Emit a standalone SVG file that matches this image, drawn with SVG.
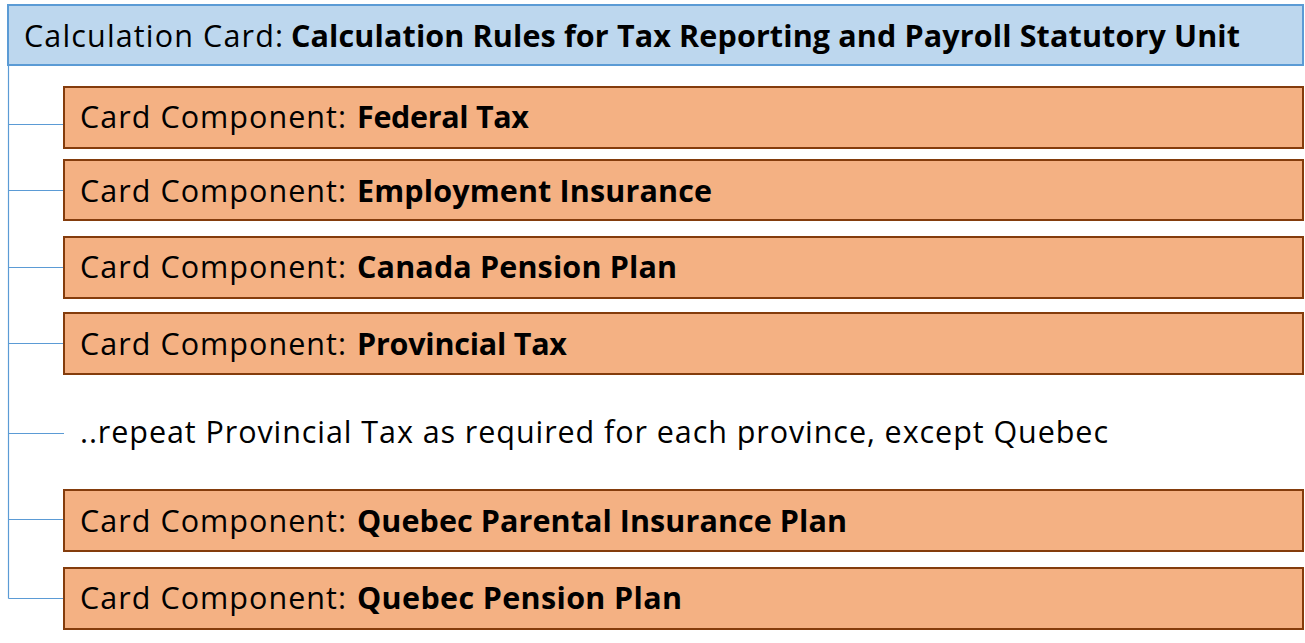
<svg xmlns="http://www.w3.org/2000/svg" width="1305" height="643" viewBox="0 0 1305 643">
<style>
  .hdr { fill: #BDD7EE; stroke: #5B9BD5; stroke-width: 2; }
  .comp { fill: #F4B183; stroke: #843C0C; stroke-width: 2; }
  .conn { stroke: #5B9BD5; stroke-width: 1.2; fill: none; }
  text { font-family: "Open Sans", "Noto Sans", sans-serif; font-size: 30.5px; fill: #000; }
  .b { font-weight: bold; }
</style>
<rect width="1305" height="643" fill="#FFFFFF"/>
<g id="connectors">
  <path class="conn" d="M8.5 66 V598.5"/>
  <path class="conn" d="M8.5 124.5 H64"/>
  <path class="conn" d="M8.5 190.5 H64"/>
  <path class="conn" d="M8.5 267.5 H64"/>
  <path class="conn" d="M8.5 343.5 H64"/>
  <path class="conn" d="M8.5 433.5 H64"/>
  <path class="conn" d="M8.5 519.5 H64"/>
  <path class="conn" d="M8.5 598.5 H64"/>
</g>
<g id="calc-card">
  <rect class="hdr" x="8" y="5" width="1295" height="60"/>
  <text x="24" y="47" textLength="259">Calculation Card:</text>
  <text class="b" x="291" y="47" textLength="949">Calculation Rules for Tax Reporting and Payroll Statutory Unit</text>
</g>
<g id="federal-tax">
  <rect class="comp" x="64" y="87" width="1239" height="61"/>
  <text x="80" y="128" textLength="266">Card Component:</text>
  <text class="b" x="357" y="128" textLength="172">Federal Tax</text>
</g>
<g id="employment-insurance">
  <rect class="comp" x="64" y="160" width="1239" height="60"/>
  <text x="80" y="202" textLength="266">Card Component:</text>
  <text class="b" x="357" y="202" textLength="355">Employment Insurance</text>
</g>
<g id="canada-pension-plan">
  <rect class="comp" x="64" y="237" width="1239" height="61"/>
  <text x="80" y="278" textLength="266">Card Component:</text>
  <text class="b" x="357" y="278" textLength="320">Canada Pension Plan</text>
</g>
<g id="provincial-tax">
  <rect class="comp" x="64" y="313" width="1239" height="61"/>
  <text x="80" y="355" textLength="266">Card Component:</text>
  <text class="b" x="357" y="355" textLength="210">Provincial Tax</text>
</g>
<g id="repeat-note">
  <text x="80" y="443" textLength="1028">..repeat Provincial Tax as required for each province, except Quebec</text>
</g>
<g id="qpip">
  <rect class="comp" x="64" y="490" width="1239" height="61"/>
  <text x="80" y="532" textLength="266">Card Component:</text>
  <text class="b" x="357" y="532" textLength="490">Quebec Parental Insurance Plan</text>
</g>
<g id="qpp">
  <rect class="comp" x="64" y="568" width="1239" height="61"/>
  <text x="80" y="609" textLength="266">Card Component:</text>
  <text class="b" x="357" y="609" textLength="325">Quebec Pension Plan</text>
</g>
</svg>
